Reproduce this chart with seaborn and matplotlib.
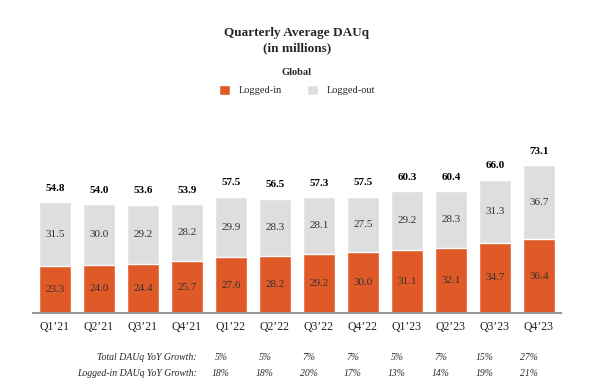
import matplotlib
matplotlib.use('Agg')
import matplotlib.pyplot as plt
from matplotlib.patches import Patch
from matplotlib.transforms import blended_transform_factory
import pandas as pd
import seaborn as sns

# data
quarters = ['Q1\u201921', 'Q2\u201921', 'Q3\u201921', 'Q4\u201921',
            'Q1\u201922', 'Q2\u201922', 'Q3\u201922', 'Q4\u201922',
            'Q1\u201923', 'Q2\u201923', 'Q3\u201923', 'Q4\u201923']
logged_in = [23.3, 24.0, 24.4, 25.7, 27.6, 28.2, 29.2, 30.0, 31.1, 32.1, 34.7, 36.4]
logged_out = [31.5, 30.0, 29.2, 28.2, 29.9, 28.3, 28.1, 27.5, 29.2, 28.3, 31.3, 36.7]
totals = [54.8, 54.0, 53.6, 53.9, 57.5, 56.5, 57.3, 57.5, 60.3, 60.4, 66.0, 73.1]
total_growth = ['5%', '5%', '7%', '7%', '5%', '7%', '15%', '27%']
logged_in_growth = ['18%', '18%', '20%', '17%', '13%', '14%', '19%', '21%']

ORANGE = '#E05A28'
GRAY = '#DEDEDE'

df = pd.DataFrame({'quarter': quarters, 'logged_in': logged_in,
                   'logged_out': logged_out, 'total': totals})

sns.set_style('white')
plt.rcParams['font.family'] = ['Liberation Serif', 'DejaVu Serif']

fig = plt.figure(figsize=(6, 3.91), dpi=100)
ax = fig.add_axes([0.055, 0.1995, 0.88, 0.4133])

# total bar in gray, logged-in part drawn in orange over it
sns.barplot(data=df, x='quarter', y='total', color=GRAY, width=0.73,
            saturation=1, ax=ax)
sns.barplot(data=df, x='quarter', y='logged_in', color=ORANGE, width=0.73,
            saturation=1, ax=ax)

for i in range(len(quarters)):
    ax.text(i, logged_in[i] / 2, f'{logged_in[i]:.1f}', ha='center', va='center',
            fontsize=8, color='#333333')
    ax.text(i, logged_in[i] + logged_out[i] / 2, f'{logged_out[i]:.1f}',
            ha='center', va='center', fontsize=8, color='#333333')
    ax.annotate(f'{totals[i]:.1f}', (i, totals[i]), xytext=(0, 10),
                textcoords='offset points', ha='center', va='center',
                fontsize=8, fontweight='bold', color='black')

ax.set_xlim(-0.5, len(quarters) - 0.5)
ax.set_ylim(0, 80)
ax.set_xlabel('')
ax.set_ylabel('')
ax.set_yticks([])
ax.tick_params(axis='x', length=0, pad=6, labelsize=8.5, colors='#222222')
for s in ['top', 'right', 'left']:
    ax.spines[s].set_visible(False)
ax.spines['bottom'].set_color('#999999')
ax.spines['bottom'].set_linewidth(1.5)

# title and legend
fig.text(0.495, 0.915, 'Quarterly Average DAUq', ha='center', va='center',
         fontsize=9.5, fontweight='bold')
fig.text(0.495, 0.877, '(in millions)', ha='center', va='center',
         fontsize=9.5, fontweight='bold')
fig.text(0.495, 0.815, 'Global', ha='center', va='center',
         fontsize=7.5, fontweight='bold')
handles = [Patch(facecolor=ORANGE, label='Logged-in'),
           Patch(facecolor=GRAY, label='Logged-out')]
fig.legend(handles=handles, loc='center', bbox_to_anchor=(0.495, 0.77),
           ncol=2, frameon=False, fontsize=7.5, handlelength=1.1,
           handleheight=1.1, columnspacing=2.4, handletextpad=0.8)

# growth table under the bars
row_y = [1 - 358 / 391, 1 - 373 / 391]
fig.text(0.328, row_y[0], 'Total DAUq YoY Growth:', ha='right', va='center',
         fontsize=7, style='italic')
fig.text(0.328, row_y[1], 'Logged-in DAUq YoY Growth:', ha='right',
         va='center', fontsize=7, style='italic')
trans = blended_transform_factory(ax.transData, fig.transFigure)
for j, (tg, lg) in enumerate(zip(total_growth, logged_in_growth)):
    xi = 4 + j - 0.23
    fig.text(xi, row_y[0], tg, ha='center', va='center', fontsize=7,
             style='italic', transform=trans)
    fig.text(xi, row_y[1], lg, ha='center', va='center', fontsize=7,
             style='italic', transform=trans)

fig.savefig('out.png', dpi=100)
